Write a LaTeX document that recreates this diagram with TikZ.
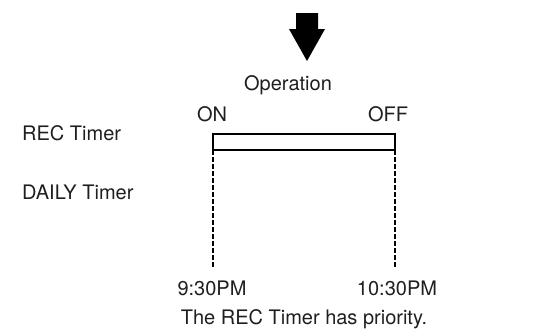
\documentclass[tikz,border=0pt]{standalone}
\usepackage{fontspec}
\setmainfont{TeX Gyre Heros}
\usepackage{tikz}
\usetikzlibrary{positioning,calc}

\tikzset{
    lbl/.style={inner sep=0pt, text=black!88, font=\fontsize{20}{24}\selectfont},
    dashline/.style={line width=1.1pt, dash pattern=on 4.5pt off 2.5pt}
}

\begin{document}
\begin{tikzpicture}[x=1pt, y=-1pt]
    \useasboundingbox (0, 0) rectangle (537, 335);
    % arrow
    \fill[black] (296, 13) -- (318, 13) -- (318, 29) -- (325, 29)
        -- (307, 61) -- (289, 29) -- (296, 29) -- cycle;
    \node[lbl, anchor=base] (op) at (288, 90) {Operation};
    \node[lbl, anchor=base] (on) at (212, 121) {ON};
    \node[lbl, anchor=base] (off) at (388, 121) {OFF};
    % rows
    \node[lbl, anchor=base west] (rec) at (22, 140) {REC Timer};
    \node[lbl, anchor=base west] (daily) at (22, 199) {DAILY Timer};
    % bar
    \draw[line width=1.3pt] (213, 134) rectangle (395, 150);
    \coordinate (ltop) at (213, 150);
    \coordinate (rtop) at (395, 150);
    \coordinate (lbot) at (213, 268);
    \coordinate (rbot) at (395, 268);
    \draw[dashline] (ltop) -- (lbot);
    \draw[dashline] (rtop) -- (rbot);
    % times
    \node[lbl, anchor=base] (t1) at (212, 295) {9:30PM};
    \node[lbl, anchor=base] (t2) at (397, 295) {10:30PM};
    \node[lbl, anchor=base] (note) at (304, 324) {The REC Timer has priority.};
\end{tikzpicture}
\end{document}
